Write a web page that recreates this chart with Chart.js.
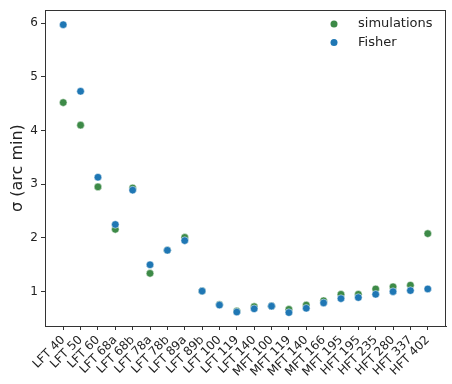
<!DOCTYPE html>
<html>
<head>
<meta charset="utf-8">
<script src="https://cdn.jsdelivr.net/npm/chart.js@4"></script>
<style>
  html, body { margin: 0; padding: 0; background: #fff; }
  #wrap { width: 452px; height: 384px; }
</style>
</head>
<body>
<div id="wrap"><canvas id="chart" width="452" height="384"></canvas></div>
<script>
const channels = ["LFT 40", "LFT 50", "LFT 60", "LFT 68a", "LFT 68b", "LFT 78a", "LFT 78b",
  "LFT 89a", "LFT 89b", "LFT 100", "LFT 119", "LFT 140", "MFT 100", "MFT 119", "MFT 140",
  "MFT 166", "MFT 195", "HFT 195", "HFT 235", "HFT 280", "HFT 337", "HFT 402"];
const simulations = [4.52, 4.10, 2.95, 2.16, 2.93, 1.34, 1.77, 2.01, 1.01, 0.76, 0.64,
  0.72, 0.73, 0.67, 0.75, 0.83, 0.95, 0.95, 1.05, 1.09, 1.12, 2.08];
const fisher = [5.97, 4.73, 3.13, 2.25, 2.89, 1.50, 1.77, 1.95, 1.01, 0.75, 0.62,
  0.68, 0.73, 0.61, 0.69, 0.79, 0.87, 0.89, 0.95, 1.00, 1.02, 1.05];
const yTicks = [1, 2, 3, 4, 5, 6];

const green = "#3d8a47";
const blue = "#1f77b4";
const font = "'DejaVu Sans', sans-serif";

const toPoints = (arr) => arr.map((v, i) => ({ x: i, y: v }));

// frame around the plot plus the legend in the top right corner
const framePlugin = {
  id: "frame",
  afterDraw(chart) {
    const { ctx, chartArea: a } = chart;
    ctx.save();
    ctx.fillStyle = "#333";
    const l = Math.round(a.left), r = Math.round(a.right);
    const t = Math.round(a.top), b = Math.round(a.bottom);
    ctx.fillRect(l, t, r - l, 1);       // top
    ctx.fillRect(r - 1, t, 1, b - t);   // right

    const items = [["simulations", green], ["Fisher", blue]];
    ctx.font = "13px " + font;
    ctx.textBaseline = "middle";
    items.forEach(([text, color], i) => {
      const y = 24 + i * 18.5;
      ctx.beginPath();
      ctx.fillStyle = color;
      ctx.arc(334, y, 3.5, 0, Math.PI * 2);
      ctx.fill();
      ctx.fillStyle = "#222";
      ctx.fillText(text, 358, y);
    });
    ctx.restore();
  }
};

new Chart(document.getElementById("chart"), {
  type: "scatter",
  data: {
    datasets: [
      {
        label: "simulations",
        data: toPoints(simulations),
        backgroundColor: green,
        borderColor: "#fff",
        borderWidth: 0.5,
        pointRadius: 3.8,
        order: 2
      },
      {
        label: "Fisher",
        data: toPoints(fisher),
        backgroundColor: blue,
        borderColor: "#fff",
        borderWidth: 0.5,
        pointRadius: 3.8,
        order: 1
      }
    ]
  },
  options: {
    responsive: false,
    animation: false,
    layout: { padding: { top: 5, right: 6, left: 0, bottom: 0 } },
    plugins: {
      legend: { display: false },
      tooltip: { enabled: false }
    },
    scales: {
      x: {
        type: "linear",
        min: -1.05,
        max: 22.05,
        afterBuildTicks: (scale) => {
          scale.ticks = channels.map((_, i) => ({ value: i }));
        },
        afterFit: (scale) => { scale.height = 58; },
        grid: { drawOnChartArea: false, drawTicks: true, tickLength: 4, color: "#333" },
        border: { display: true, color: "#333" },
        ticks: {
          autoSkip: false,
          maxRotation: 45,
          minRotation: 45,
          padding: 3,
          color: "#222",
          font: { family: font, size: 12 },
          callback: (v) => channels[v] ?? ""
        }
      },
      y: {
        min: 0.36,
        max: 6.24,
        afterBuildTicks: (scale) => {
          scale.ticks = yTicks.map((v) => ({ value: v }));
        },
        afterFit: (scale) => { scale.width = 45; },
        grid: { drawOnChartArea: false, drawTicks: true, tickLength: 4, color: "#333" },
        border: { display: true, color: "#333" },
        ticks: {
          padding: 3,
          color: "#222",
          font: { family: font, size: 12 }
        },
        title: {
          display: true,
          text: "σ (arc min)",
          color: "#222",
          font: { family: font, size: 16 },
          padding: { top: 8, bottom: 0 }
        }
      }
    }
  },
  plugins: [framePlugin]
});
</script>
</body>
</html>
